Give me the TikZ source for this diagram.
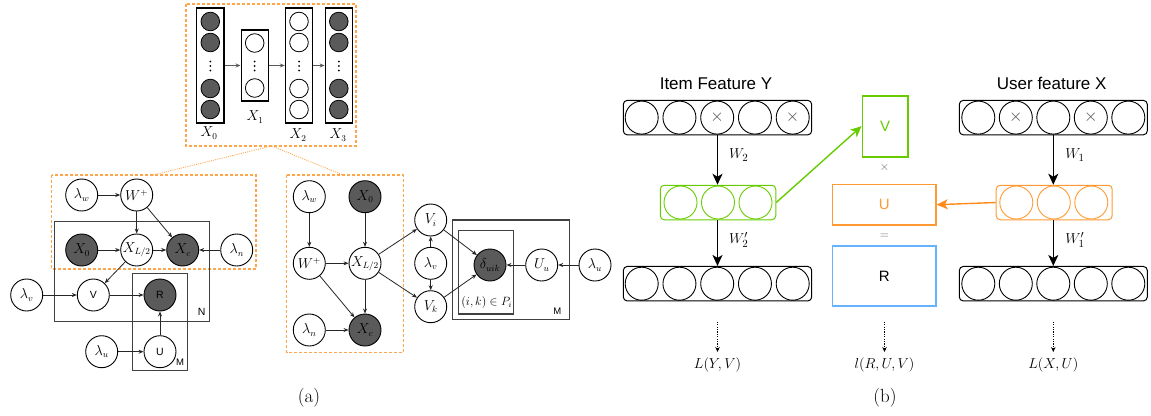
\documentclass[tikz,border=0pt]{standalone}
\usepackage{fontspec}
\setsansfont{Liberation Sans}
\usetikzlibrary{arrows.meta}
\definecolor{dk}{HTML}{5A5A5A}
\definecolor{og}{HTML}{FFA64D}
\definecolor{gr}{HTML}{66CC00}
\definecolor{orb}{HTML}{FF9933}
\definecolor{ora}{HTML}{FF8C1A}
\definecolor{bl}{HTML}{66B2FF}
\begin{document}
\begin{tikzpicture}[x=1pt,y=-1pt,
  gn/.style={circle,draw,line width=0.9pt,minimum size=32pt,inner sep=0pt,fill=white,font=\fontsize{13.5}{15}\selectfont},
  gd/.style={gn,fill=dk},
  sl/.style={font=\sffamily\fontsize{10.5}{12}\selectfont},
  plate/.style={draw=black!75,line width=1.1pt},
  od/.style={draw=og,line width=1.1pt,dash pattern=on 3pt off 2pt},
  odot/.style={draw=og,line width=0.9pt,dash pattern=on 1pt off 1.2pt},
  ga/.style={-{Stealth[length=5pt,width=4pt]},line width=0.8pt,draw=black!85},
  col/.style={draw,line width=1.1pt,minimum width=27.3pt,inner sep=0pt},
  sc/.style={circle,draw,line width=0.8pt,minimum size=18.6pt,inner sep=0pt},
  scd/.style={sc,fill=dk},
  dotm/.style={circle,fill=black,inner sep=0pt,minimum size=2pt},
  lbl/.style={font=\fontsize{13.5}{15}\selectfont},
  rowbox/.style={draw,line width=1pt,rounded corners=4pt,minimum height=34.5pt,inner sep=0pt},
  rc/.style={circle,draw,line width=0.9pt,minimum size=33pt,inner sep=0pt},
  big/.style={-{Stealth[length=11pt,width=10pt,inset=3pt]},line width=1.5pt},
  mlab/.style={font=\fontsize{15}{17}\selectfont},
  ttl/.style={font=\sffamily\fontsize{17}{20}\selectfont},
  mat/.style={line width=1.6pt,minimum width=45.4pt,inner sep=0pt,font=\sffamily\fontsize{15}{18}\selectfont},
  op/.style={text=black!60,font=\fontsize{13}{15}\selectfont},
  cx/.style={text=black!70,font=\fontsize{18}{20}\selectfont},
  dotar/.style={-{Stealth[length=5pt,width=4.5pt]},line width=0.8pt,dash pattern=on 1.2pt off 1.2pt},
  captxt/.style={font=\fontsize{19}{22}\selectfont}
]
\useasboundingbox (0,0) rectangle (1151,415);

% ---------------- top autoencoder ----------------
\draw[od] (186,4) rectangle (356,146);
\node[col,minimum height=115pt] (c0) at (210.3,65.5) {};
\node[col,minimum height=71pt] (c1) at (254.7,65.5) {};
\node[col,minimum height=115pt] (c2) at (299,65.5) {};
\node[col,minimum height=115pt] (c3) at (338.8,65.5) {};
\foreach \y [count=\k] in {21.5,42.5,88.5,109.5}{
  \node[scd] (a0\k) at (210.3,\y) {};
  \node[sc]  (a2\k) at (299,\y) {};
  \node[scd] (a3\k) at (338.8,\y) {};
}
\node[sc] (a11) at (254.7,43) {};
\node[sc] (a12) at (254.7,88) {};
\foreach \x [count=\k] in {210.3,254.7,299,338.8}
  \foreach \y [count=\j] in {61.5,66,70.5}
    \node[dotm] (dt\k\j) at (\x,\y) {};
\draw[ga,draw=black!65] (c0.east) -- (c1.west);
\draw[ga,draw=black!65] (c1.east) -- (c2.west);
\draw[ga,draw=black!65] (c2.east) -- (c3.west);
\node[lbl] (lx0) at (209,133) {$X_0$};
\node[lbl] (lx1) at (255,117) {$X_1$};
\node[lbl] (lx2) at (298,135) {$X_2$};
\node[lbl] (lx3) at (338,135) {$X_3$};
\coordinate (tb) at (271.7,146);
\coordinate (tl) at (153,175);
\coordinate (tr) at (343,175);
\draw[odot] (tb) -- (tl);
\draw[odot] (tb) -- (tr);

% ---------------- left graph ----------------
\draw[od] (51.7,175) rectangle (256,269);
\draw[plate] (54.3,221.7) rectangle (209.3,321.7);
\draw[plate] (132.3,273.3) rectangle (187.3,370.7);
\node[sl] (pN) at (201.7,311.7) {N};
\node[sl,font=\sffamily\fontsize{9.5}{11}\selectfont] (pM1) at (180,362) {M};
\node[gn] (lw1) at (81.7,195) {$\lambda_w$};
\node[gn] (wp1) at (136.7,195) {$W^+$};
\node[gd] (x01) at (81.7,250) {$X_0$};
\node[gn] (xl1) at (136.7,250) {$X_{L/2}$};
\node[gd] (xc1) at (182.7,250) {$X_c$};
\node[gn] (ln1) at (236.7,250) {$\lambda_n$};
\node[gn] (lv1) at (26.7,295) {$\lambda_v$};
\node[gn,sl,minimum size=32pt] (v1) at (93.3,295) {V};
\node[gd,sl,minimum size=32pt] (r1) at (160,295) {R};
\node[gn] (lu1) at (101.7,351.7) {$\lambda_u$};
\node[gn,sl,minimum size=32pt] (u1) at (160,351.7) {U};
\draw[ga] (lw1) -- (wp1);
\draw[ga] (wp1) -- (xl1);
\draw[ga] (wp1) -- (xc1);
\draw[ga] (x01) -- (xl1);
\draw[ga] (xl1) -- (xc1);
\draw[ga] (ln1) -- (xc1);
\draw[ga] (xl1) -- (v1);
\draw[ga] (lv1) -- (v1);
\draw[ga] (v1) -- (r1);
\draw[ga] (u1) -- (r1);
\draw[ga] (lu1) -- (u1);

% ---------------- middle graph ----------------
\draw[od] (286.7,175) rectangle (403.3,352.7);
\draw[plate] (452.3,220) rectangle (569.3,319.3);
\draw[plate] (458.3,230.7) rectangle (513.3,314);
\node[sl,font=\sffamily\fontsize{9.5}{11}\selectfont] (pM2) at (557.3,311.7) {M};
\node[font=\fontsize{12}{14}\selectfont] (pP) at (486.7,302.5) {$(i,k)\in P_i$};
\node[gn] (lw2) at (309.3,196.7) {$\lambda_w$};
\node[gd] (x02) at (365,196.7) {$X_0$};
\node[gn] (wp2) at (309.3,263.3) {$W^+$};
\node[gn] (xl2) at (365,263.3) {$X_{L/2}$};
\node[gn] (ln2) at (309.3,330) {$\lambda_n$};
\node[gd] (xc2) at (365,330) {$X_c$};
\node[gn] (vi) at (430.7,220) {$V_i$};
\node[gn] (lv2) at (430.7,263.3) {$\lambda_v$};
\node[gn] (vk) at (430.7,306.7) {$V_k$};
\node[gd] (dl) at (490,265) {$\delta_{uik}$};
\node[gn] (uu) at (541.7,265) {$U_u$};
\node[gn] (lu2) at (595,265) {$\lambda_u$};
\draw[ga] (lw2) -- (wp2);
\draw[ga] (x02) -- (xl2);
\draw[ga] (wp2) -- (xl2);
\draw[ga] (wp2) -- (xc2);
\draw[ga] (xl2) -- (xc2);
\draw[ga] (ln2) -- (xc2);
\draw[ga] (xl2) -- (vi);
\draw[ga] (xl2) -- (vk);
\draw[ga] (lv2) -- (vi);
\draw[ga] (lv2) -- (vk);
\draw[ga] (vi) -- (dl);
\draw[ga] (vk) -- (dl);
\draw[ga] (uu) -- (dl);
\draw[ga] (lu2) -- (uu);

% ---------------- right: item side ----------------
\node[ttl] (tY) at (716,83.3) {Item Feature Y};
\node[rowbox,minimum width=188.4pt] (yr1) at (717.5,117.6) {};
\foreach \i in {0,...,4}
  \node[rc] (yt\i) at (641.7+37.75*\i,117.6) {};
\node[cx] (yx1) at (yt2) {$\times$};
\node[cx] (yx2) at (yt4) {$\times$};
\node[rowbox,draw=gr,minimum width=115.5pt] (hy) at (718,202.5) {};
\foreach \i in {0,1,2}
  \node[rc,draw=gr] (yh\i) at (680.5+37.5*\i,202.5) {};
\node[rowbox,minimum width=188.4pt] (yr2) at (717.5,283.7) {};
\foreach \i in {0,...,4}
  \node[rc] (yb\i) at (641.7+37.75*\i,283.7) {};
\draw[big] (yr1.south) -- (yr1.south |- hy.north);
\draw[big] (hy.south -| yr1.south) -- (yr2.north);
\node[mlab] (w2) at (738.7,155) {$W_2$};
\node[mlab] (w2p) at (738.7,240) {$W_2'$};
\coordinate (dy) at (717.5,321.7);
\coordinate (dye) at (717.5,352);
\draw[dotar] (dy) -- (dye);
\node[mlab] (lY) at (717.5,365) {$L(Y,V)$};

% ---------------- middle matrices ----------------
\node[mat,draw=gr,text=gr,minimum height=61pt] (Vb) at (885,126.2) {V};
\node[op] (tm) at (884.5,167.3) {$\times$};
\node[mat,draw=orb,text=orb,minimum width=103.3pt,minimum height=40.7pt] (Ub) at (884.3,204.7) {U};
\node[op] (eq) at (884.5,236.7) {$=$};
\node[mat,draw=bl,minimum width=103.3pt,minimum height=60pt] (Rb) at (884.3,276) {R};
\draw[big,draw=gr,line width=1.4pt] (hy.east) -- (Vb.west);
\coordinate (dm) at (884.5,321.7);
\coordinate (dme) at (884.5,352);
\draw[dotar] (dm) -- (dme);
\node[mlab] (lR) at (884.5,365) {$l(R,U,V)$};

% ---------------- right: user side ----------------
\node[ttl] (tX) at (1051.7,83.3) {User feature X};
\node[rowbox,minimum width=188pt] (xr1) at (1053.3,117.6) {};
\foreach \i in {0,...,4}
  \node[rc] (xt\i) at (978.3+37.5*\i,117.6) {};
\node[cx] (xx1) at (xt1) {$\times$};
\node[cx] (xx2) at (xt3) {$\times$};
\node[rowbox,draw=orb,minimum width=116pt] (hx) at (1054.2,202.5) {};
\foreach \i in {0,1,2}
  \node[rc,draw=orb] (xh\i) at (1016.3+37.5*\i,202.5) {};
\node[rowbox,minimum width=188pt] (xr2) at (1053.3,283.7) {};
\foreach \i in {0,...,4}
  \node[rc] (xb\i) at (978.3+37.5*\i,283.7) {};
\draw[big] (xr1.south) -- (xr1.south |- hx.north);
\draw[big] (hx.south -| xr1.south) -- (xr2.north);
\node[mlab] (w1) at (1075,155) {$W_1$};
\node[mlab] (w1p) at (1075,240) {$W_1'$};
\draw[big,draw=ora,line width=1.4pt] (hx.west) -- (Ub.east);
\coordinate (dx) at (1053.3,321.7);
\coordinate (dxe) at (1053.3,352);
\draw[dotar] (dx) -- (dxe);
\node[mlab] (lX) at (1053.3,365) {$L(X,U)$};

% ---------------- captions ----------------
\node[captxt] (ca) at (309,398) {(a)};
\node[captxt] (cb) at (885,398) {(b)};
\end{tikzpicture}
\end{document}
